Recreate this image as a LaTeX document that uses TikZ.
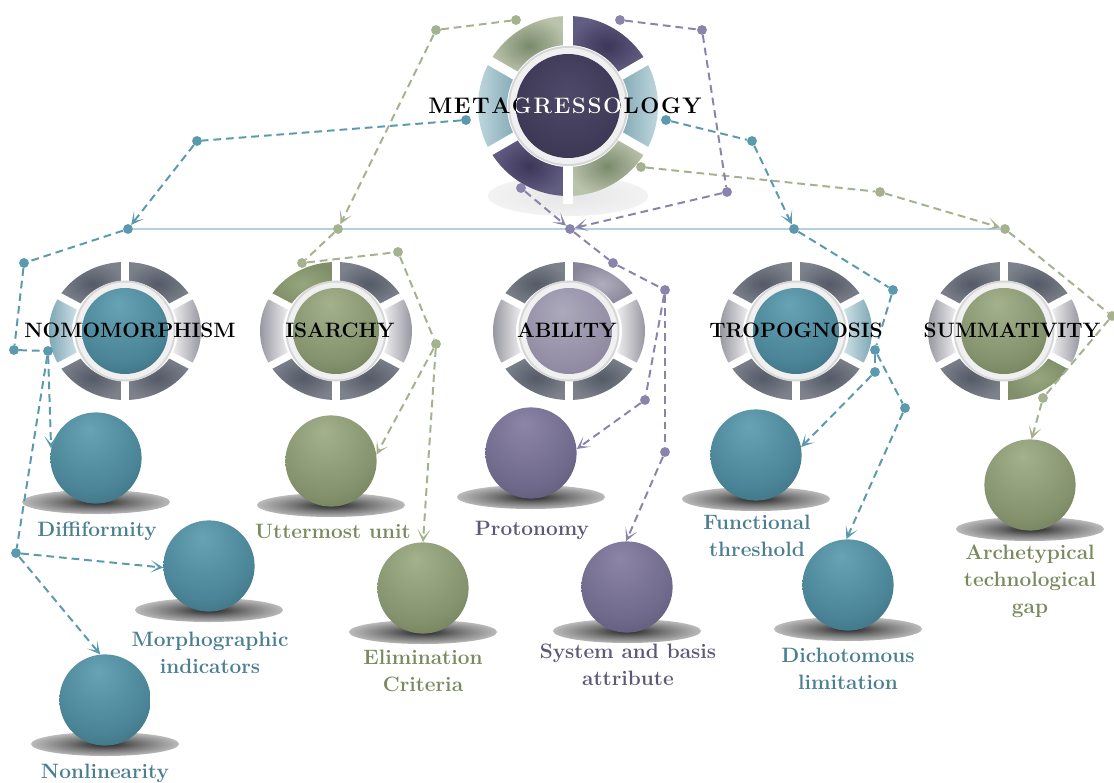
\documentclass[tikz,border=0pt]{standalone}
\usepackage{fontspec}
\usetikzlibrary{arrows.meta}
\pgfdeclarelayer{back}\pgfdeclarelayer{front}
\pgfsetlayers{back,main,front}
% colours
\definecolor{tline}{HTML}{5B9AAE}
\definecolor{gline}{HTML}{A4B28E}
\definecolor{pline}{HTML}{8A84AA}
\definecolor{hline}{HTML}{B8CFE0}
\definecolor{tealtx}{HTML}{4A7F90}
\definecolor{greentx}{HTML}{7A8A5E}
\definecolor{purtx}{HTML}{5E5878}
\definecolor{tealL}{HTML}{66A3B5}\definecolor{tealM}{HTML}{4A8496}\definecolor{tealD}{HTML}{2C5461}
\definecolor{greenL}{HTML}{A3B18D}\definecolor{greenM}{HTML}{84926D}\definecolor{greenD}{HTML}{545F3F}
\definecolor{purL}{HTML}{8C85A8}\definecolor{purM}{HTML}{6F698B}\definecolor{purD}{HTML}{433E58}
\definecolor{abL}{HTML}{ADA9BC}\definecolor{abM}{HTML}{908BA2}\definecolor{abD}{HTML}{6C6780}
\definecolor{mainL}{HTML}{4E4969}\definecolor{mainM}{HTML}{3B3754}\definecolor{mainD}{HTML}{28253C}
\pgfdeclareradialshading{sphteal}{\pgfpoint{-4bp}{16bp}}{color(0bp)=(tealL); color(28bp)=(tealM); color(54bp)=(tealD); color(75bp)=(tealD)}
\pgfdeclareradialshading{sphgreen}{\pgfpoint{-4bp}{16bp}}{color(0bp)=(greenL); color(28bp)=(greenM); color(54bp)=(greenD); color(75bp)=(greenD)}
\pgfdeclareradialshading{sphpur}{\pgfpoint{-4bp}{16bp}}{color(0bp)=(purL); color(28bp)=(purM); color(54bp)=(purD); color(75bp)=(purD)}
\pgfdeclareradialshading{sphab}{\pgfpoint{-4bp}{12bp}}{color(0bp)=(abL); color(30bp)=(abM); color(52bp)=(abD); color(75bp)=(abD)}
\pgfdeclareradialshading{sphmain}{\pgfpoint{0bp}{6bp}}{color(0bp)=(mainL); color(30bp)=(mainM); color(50bp)=(mainD); color(75bp)=(mainD)}
\pgfdeclareradialshading{shadowsh}{\pgfpointorigin}{color(0bp)=(black!85); color(12bp)=(black!55); color(32bp)=(black!12); color(50bp)=(white); color(75bp)=(white)}
\pgfdeclareradialshading{reflsh}{\pgfpointorigin}{color(0bp)=(black!10); color(30bp)=(black!4); color(50bp)=(white); color(75bp)=(white)}
\tikzset{
  dkseg/.style={shade, inner color={rgb,255:red,84;green,90;blue,102}, outer color={rgb,255:red,124;green,129;blue,139}},
  lgL/.style={shade, left color={rgb,255:red,140;green,140;blue,150}, right color={rgb,255:red,244;green,244;blue,246}},
  lgR/.style={shade, left color={rgb,255:red,244;green,244;blue,246}, right color={rgb,255:red,140;green,140;blue,150}},
  ltL/.style={shade, left color={rgb,255:red,115;green,160;blue,175}, right color={rgb,255:red,212;green,228;blue,233}},
  ltR/.style={shade, left color={rgb,255:red,212;green,228;blue,233}, right color={rgb,255:red,115;green,160;blue,175}},
  grseg/.style={shade, inner color={rgb,255:red,150;green,166;blue,126}, outer color={rgb,255:red,128;green,143;blue,105}},
  abseg/.style={shade, inner color={rgb,255:red,176;green,174;blue,190}, outer color={rgb,255:red,136;green,133;blue,152}},
  mpur/.style={shade, inner color={rgb,255:red,60;green,55;blue,88}, outer color={rgb,255:red,98;green,93;blue,130}},
  mgrn/.style={shade, inner color={rgb,255:red,122;green,137;blue,108}, outer color={rgb,255:red,186;green,196;blue,172}},
  mtlL/.style={shade, left color={rgb,255:red,196;green,219;blue,226}, right color={rgb,255:red,132;green,170;blue,182}},
  mtlR/.style={shade, left color={rgb,255:red,132;green,170;blue,182}, right color={rgb,255:red,196;green,219;blue,226}},
  ballnode/.style={circle, inner sep=0pt, minimum size=2.28cm, shade, shading=#1},
  tdot/.style={circle, fill=tline, inner sep=0pt, minimum size=7pt},
  gdot/.style={circle, fill=gline, inner sep=0pt, minimum size=7pt},
  pdot/.style={circle, fill=pline, inner sep=0pt, minimum size=7pt},
  conn/.style={dashed, dash pattern=on 5.5pt off 3.5pt, line width=1.4pt},
  tl/.style={conn, draw=tline},
  gl/.style={conn, draw=gline},
  pl/.style={conn, draw=pline},
  arr/.style={-{Stealth[length=9pt,width=9pt,inset=5.5pt]}},
  wlab/.style={font=\fontsize{14.8}{17}\selectfont\bfseries, text=black, inner sep=0pt},
  sublab/.style={font=\fontsize{14.8}{19.2}\selectfont\bfseries, align=center, inner sep=0pt},
  titlef/.style={font=\fontsize{16}{18}\selectfont\bfseries, inner sep=0pt}
}
\newcommand\wsector[2]{%
  \path[#2] ({#1-30}:{\rxi} and {\ryi}) arc[start angle={#1-30}, end angle={#1+30}, x radius=\rxi, y radius=\ryi]
    -- ({#1+30}:{\rxo} and {\ryo}) arc[start angle={#1+30}, end angle={#1-30}, x radius=\rxo, y radius=\ryo] -- cycle;}
\newcommand\wheelat[9]{%
  \begin{scope}[shift={(#1,#2)}, y=0.025cm]
    \wsector{60}{#3}\wsector{120}{#4}\wsector{180}{#5}\wsector{240}{#6}\wsector{300}{#7}\wsector{0}{#8}
    \foreach \a in {30,90,...,330}{\draw[white, line width=\gapw] (0,0) -- (\a:{\rxo+8} and {\ryo+8});}
    \fill[black!16] (0,0) circle[radius=\rrim+2];
    \fill[white!94!black] (0,0) circle[radius=\rrim];
    \shade[shading=#9] (0,0) circle[radius=\rin];
  \end{scope}}
\newcommand\titletext{M\kern1.1pt E\kern1.1pt T\kern1.1pt A\kern1.1pt G\kern1.1pt R\kern1.1pt E\kern1.1pt S\kern1.1pt S\kern1.1pt O\kern1.1pt L\kern1.1pt O\kern1.1pt G\kern1.1pt Y}
\begin{document}
\begin{tikzpicture}[x=0.025cm, y=-0.025cm]
\useasboundingbox (0,0) rectangle (1114,783);
\begin{pgfonlayer}{back}
  \fill[white] (0,0) rectangle (1114,783);
  % reflection under main wheel
  \shade[shading=reflsh] (568,196) ellipse[x radius=80, y radius=20];
  % main wheel
  \def\rxo{90}\def\ryo{90}\def\rxi{61}\def\ryi{61}\def\rrim{58}\def\rin{52}\def\gapw{6.5pt}
  \wheelat{568}{106}{mpur}{mgrn}{mtlL}{mpur}{mgrn}{mtlR}{sphmain}
  % second level wheels
  \def\rxo{76}\def\ryo{69}\def\rxi{53}\def\ryi{50}\def\rrim{48.5}\def\rin{43}\def\gapw{5pt}
  \wheelat{125}{331}{dkseg}{dkseg}{ltL}{dkseg}{dkseg}{lgR}{sphteal}
  \wheelat{336}{331}{dkseg}{grseg}{lgL}{dkseg}{dkseg}{lgR}{sphgreen}
  \wheelat{569}{331}{abseg}{dkseg}{lgL}{dkseg}{dkseg}{lgR}{sphab}
  \wheelat{796}{331}{dkseg}{dkseg}{lgL}{dkseg}{dkseg}{ltR}{sphteal}
  \wheelat{1004}{331}{dkseg}{dkseg}{lgL}{dkseg}{grseg}{lgR}{sphgreen}
  % sphere shadows
  \foreach \cx/\cy in {96/458, 209/566, 105/700, 331/461, 423/588, 531/453, 627/587, 756/455, 848/585, 1030/485}{
    \shade[shading=shadowsh] (\cx,\cy+44) ellipse[x radius=74, y radius=12];}
  % spheres
  \node[ballnode=sphteal] (s1) at (96,458) {};
  \node[ballnode=sphteal] (s2) at (209,566) {};
  \node[ballnode=sphteal] (s3) at (105,700) {};
  \node[ballnode=sphgreen] (s4) at (331,461) {};
  \node[ballnode=sphgreen] (s5) at (423,588) {};
  \node[ballnode=sphpur] (s6) at (531,453) {};
  \node[ballnode=sphpur] (s7) at (627,587) {};
  \node[ballnode=sphteal] (s8) at (756,455) {};
  \node[ballnode=sphteal] (s9) at (848,585) {};
  \node[ballnode=sphgreen] (s10) at (1030,485) {};
\end{pgfonlayer}
\begin{pgfonlayer}{front}
  % teal dots
  \node[tdot] (t1) at (466,120) {};
  \node[tdot] (t2) at (197,141) {};
  \node[tdot] (t3) at (128,229) {};
  \node[tdot] (t4) at (24,263) {};
  \node[tdot] (t5) at (14,350) {};
  \node[tdot] (t6) at (48,351) {};
  \node[tdot] (t7) at (16,553) {};
  \node[tdot] (t8) at (666,120) {};
  \node[tdot] (t9) at (752,141) {};
  \node[tdot] (t10) at (794,229) {};
  \node[tdot] (t11) at (893,290) {};
  \node[tdot] (t12) at (875,350) {};
  \node[tdot] (t13) at (875,372) {};
  \node[tdot] (t14) at (905,408) {};
  % green dots
  \node[gdot] (g1) at (436,30) {};
  \node[gdot] (g2) at (516,20) {};
  \node[gdot] (g3) at (338,229) {};
  \node[gdot] (g4) at (302,263) {};
  \node[gdot] (g5) at (398,252) {};
  \node[gdot] (g6) at (436,344) {};
  \node[gdot] (g7) at (641,167) {};
  \node[gdot] (g8) at (880,192) {};
  \node[gdot] (g9) at (1005,229) {};
  \node[gdot] (g10) at (1112,316) {};
  \node[gdot] (g11) at (1043,398) {};
  % purple dots
  \node[pdot] (p1) at (620,20) {};
  \node[pdot] (p2) at (702,30) {};
  \node[pdot] (p3) at (727,192) {};
  \node[pdot] (p4) at (521,188) {};
  \node[pdot] (p5) at (570,229) {};
  \node[pdot] (p6) at (613,263) {};
  \node[pdot] (p7) at (665,290) {};
  \node[pdot] (p8) at (645,400) {};
  \node[pdot] (p9) at (665,452) {};
  % title
  \node[titlef] (title) at (565,106) {\titletext};
  \begin{scope}
    \clip (568,106) circle[radius=52];
    \node[titlef, text=white] (titlew) at (565,106) {\titletext};
  \end{scope}
  % wheel labels
  \node[wlab] (w1) at (130,330) {NOMOMORPHISM};
  \node[wlab] (w2) at (340,330) {ISARCHY};
  \node[wlab] (w3) at (567,330) {ABILITY};
  \node[wlab] (w4) at (796,330) {TROPOGNOSIS};
  \node[wlab] (w5) at (1012,330) {SUMMATIVITY};
  % sphere labels
  \node[sublab, text=tealtx] (l1) at (97,531) {Diffiformity};
  \node[sublab, text=tealtx] (l2) at (210,653) {Morphographic\\indicators};
  \node[sublab, text=tealtx] (l3) at (105,773) {Nonlinearity};
  \node[sublab, text=greentx] (l4) at (333,531) {Uttermost unit};
  \node[sublab, text=greentx] (l5) at (423,671) {Elimination\\Criteria};
  \node[sublab, text=purtx] (l6) at (532,530) {Protonomy};
  \node[sublab, text=purtx] (l7) at (628,665) {System and basis\\attribute};
  \node[sublab, text=tealtx] (l8) at (757,536) {Functional\\threshold};
  \node[sublab, text=tealtx] (l9) at (848,669) {Dichotomous\\limitation};
  \node[sublab, text=greentx] (l10) at (1030,581) {Archetypical\\technological\\gap};
\end{pgfonlayer}
% horizontal line
\draw[hline, line width=1.1pt] (t3) -- (g9);
% teal connectors
\draw[tl] (t1) -- (t2);
\draw[tl, arr] (t2) -- (t3);
\draw[tl] (t3) -- (t4) -- (t5) -- (t6);
\draw[tl, arr] (t6) -- (s1.168);
\draw[tl] (t6) -- (t7);
\draw[tl, arr] (t7) -- (s2.182);
\draw[tl, arr] (t7) -- (s3.96);
\draw[tl] (t8) -- (t9);
\draw[tl, arr] (t9) -- (t10);
\draw[tl] (t10) -- (t11) -- (t12) -- (t13);
\draw[tl] (t12) -- (t14);
\draw[tl, arr] (t13) -- (s8.10);
\draw[tl, arr] (t14) -- (s9.92);
% green connectors
\draw[gl] (g1) -- (g2);
\draw[gl, arr] (g1) -- (g3);
\draw[gl] (g3) -- (g4) -- (g5) -- (g6);
\draw[gl, arr] (g6) -- (s4.8);
\draw[gl, arr] (g6) -- (s5.90);
\draw[gl] (g7) -- (g8);
\draw[gl, arr] (g8) -- (g9);
\draw[gl] (g9) -- (g10) -- (g11);
\draw[gl, arr] (g11) -- (s10.88);
% purple connectors
\draw[pl] (p1) -- (p2) -- (p3);
\draw[pl, arr] (p3) -- (p5);
\draw[pl, arr] (p4) -- (p5);
\draw[pl] (p5) -- (p6) -- (p7) -- (p8);
\draw[pl, arr] (p8) -- (s6.5);
\draw[pl] (p7) -- (p9);
\draw[pl, arr] (p9) -- (s7.91);
\end{tikzpicture}
\end{document}
